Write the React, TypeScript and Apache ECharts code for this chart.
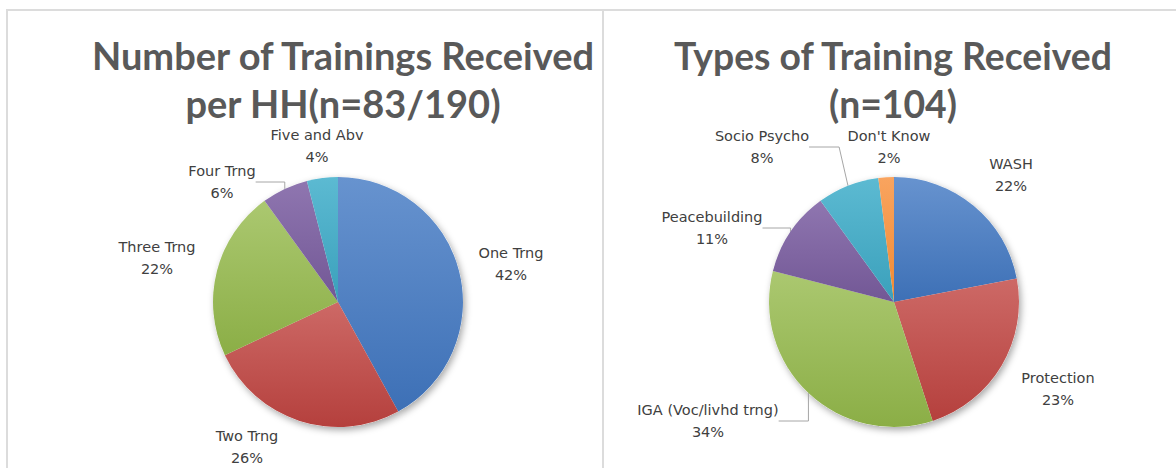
import React, { useEffect, useRef } from "react";
import * as echarts from "echarts";

// ---------- data ----------
const countCategories = ["One Trng", "Two Trng", "Three Trng", "Four Trng", "Five and Abv"];
const countValues = [42, 26, 22, 6, 4];

const typeCategories = [
  "WASH",
  "Protection",
  "IGA (Voc/livhd trng)",
  "Peacebuilding",
  "Socio Psycho",
  "Don't Know",
];
const typeValues = [22, 23, 34, 11, 8, 2];

const titleLeft = "Number of Trainings Received\nper HH(n=83/190)";
const titleRight = "Types of Training Received\n(n=104)";

// ---------- layout / style ----------
const leftLabelPos = [
  [511, 264],
  [247, 447],
  [157, 258],
  [222, 182],
  [317, 146],
];
const leftLeader = [false, false, false, true, false];
const rightLabelPos = [
  [1011, 175],
  [1058, 389],
  [708, 421],
  [712, 228],
  [762, 147],
  [889, 147],
];
const rightLeader = [false, false, true, true, true, false];

const gradPairs = [
  ["#6793cf", "#3d70b6"], // blue
  ["#cd6966", "#b5403d"], // red
  ["#abc870", "#8bae46"], // green
  ["#8f76b0", "#725795"], // purple
  ["#5cbad2", "#3aa0bb"], // aqua
  ["#f9a45f", "#f08a33"], // orange
];

const FONT = "'DejaVu Sans', sans-serif";

function grad(i: number) {
  const [a, b] = gradPairs[i % gradPairs.length];
  return new echarts.graphic.LinearGradient(0, 0, 0, 1, [
    { offset: 0, color: a },
    { offset: 1, color: b },
  ]);
}

function pieSeries(
  cats: string[],
  vals: number[],
  center: number[],
  pos: number[][],
  leader: boolean[]
) {
  const shadow = {
    type: "pie",
    center,
    radius: 125,
    startAngle: 90,
    clockwise: true,
    silent: true,
    z: 1,
    label: { show: false },
    labelLine: { show: false },
    itemStyle: {
      color: "#ffffff",
      shadowBlur: 7,
      shadowColor: "rgba(0,0,0,0.35)",
      shadowOffsetX: 2,
      shadowOffsetY: 3,
    },
    data: vals.map((v, i) => ({ name: cats[i], value: v })),
  };
  const main = {
    type: "pie",
    center,
    radius: 125,
    startAngle: 90,
    clockwise: true,
    z: 2,
    percentPrecision: 0,
    avoidLabelOverlap: false,
    itemStyle: { borderWidth: 0 },
    emphasis: { disabled: true },
    label: {
      show: true,
      position: "outside",
      formatter: "{b}\n{d}%",
      fontFamily: FONT,
      fontSize: 14.5,
      lineHeight: 22,
      color: "#404040",
      align: "center",
    },
    labelLine: {
      show: false,
      lineStyle: { color: "#a6a6a6", width: 1 },
    },
    labelLayout: (p: any) => ({
      x: pos[p.dataIndex][0],
      y: pos[p.dataIndex][1],
      align: "center",
      verticalAlign: "middle",
    }),
    data: vals.map((v, i) => ({
      name: cats[i],
      value: v,
      itemStyle: { color: grad(i) },
      labelLine: { show: leader[i] },
    })),
  };
  return [shadow, main];
}

export default function App() {
  const ref = useRef<HTMLDivElement>(null);
  useEffect(() => {
    if (!ref.current) return;
    const chart = echarts.init(ref.current, undefined, { renderer: "svg" });
    const titleStyle = {
      fontFamily: "Lato, sans-serif",
      fontWeight: "bold",
      fontSize: 38,
      lineHeight: 48,
      color: "#595959",
    };
    chart.setOption({
      animation: false,
      backgroundColor: "#ffffff",
      title: [
        { text: titleLeft, left: 338, top: 26, textAlign: "center", textStyle: titleStyle },
        { text: titleRight, left: 888, top: 26, textAlign: "center", textStyle: { ...titleStyle, fontSize: 37.3 } },
      ],
      graphic: [
        { type: "rect", silent: true, shape: { x: 6, y: 9, width: 1170, height: 2 }, style: { fill: "#dcdcdc" } },
        { type: "rect", silent: true, shape: { x: 6, y: 9, width: 2, height: 459 }, style: { fill: "#dcdcdc" } },
        { type: "rect", silent: true, shape: { x: 602, y: 9, width: 2, height: 459 }, style: { fill: "#dcdcdc" } },
      ],
      series: [
        ...pieSeries(countCategories, countValues, [338, 302], leftLabelPos, leftLeader),
        ...pieSeries(typeCategories, typeValues, [894, 302], rightLabelPos, rightLeader),
      ],
    });
    return () => chart.dispose();
  }, []);
  return (
    <div
      ref={ref}
      style={{ position: "absolute", left: 0, top: 0, width: 1176, height: 468, background: "#fff" }}
    />
  );
}
